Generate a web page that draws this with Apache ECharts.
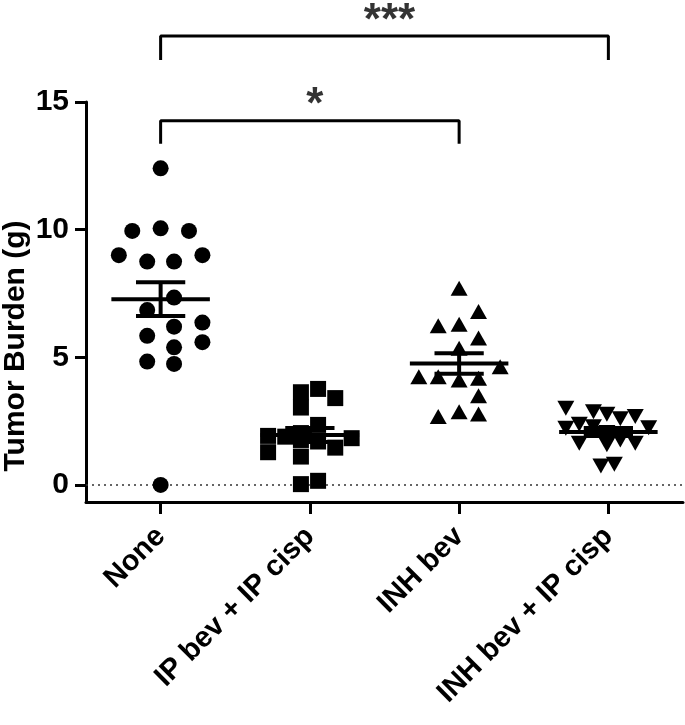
<!DOCTYPE html>
<html><head><meta charset="utf-8">
<script src="https://cdn.jsdelivr.net/npm/echarts@6/dist/echarts.min.js"></script>
<style>html,body{margin:0;padding:0;background:#fff}#c{width:685px;height:725px}</style>
</head><body><div id="c"></div>
<script>
// ---- data ----
const categories = ['None', 'IP bev + IP cisp', 'INH bev', 'INH bev + IP cisp'];
const yTicks = [0, 5, 10, 15];

// beeswarm positions: x offset (category units) and value (g)
const noneX = [0, -0.19, 0, 0.19, -0.28, -0.09, 0.09, 0.28, 0.09, -0.09, 0.09, 0.28, -0.09, 0.28, 0.09, -0.09, 0.09, 0];
const noneY = [12.40, 9.95, 10.05, 9.95, 9.0, 8.75, 8.75, 9.0, 7.34, 6.85, 6.2, 6.36, 5.84, 5.59, 5.39, 4.83, 4.74, 0];

const ipX = [-0.06, -0.06, 0.055, 0.17, -0.28, -0.28, -0.165, -0.06, 0.055, 0.055, 0.17, 0.28, -0.06, -0.06, 0.055, -0.06];
const ipY = [3.63, 3.03, 3.76, 3.40, 1.92, 1.28, 1.89, 2.03, 2.35, 1.70, 1.46, 1.83, 1.11, 0.03, 0.16, 1.76];

const inhX = [0, 0.13, -0.14, 0, 0.13, 0, 0.275, -0.27, -0.14, 0, 0.13, 0.13, -0.14, 0, 0.13];
const inhY = [7.70, 6.79, 6.23, 6.29, 5.75, 5.35, 4.63, 4.24, 4.24, 4.11, 4.18, 3.49, 2.68, 2.87, 2.78];

const inhIpX = [-0.285, -0.10, -0.01, 0.08, 0.18, -0.285, -0.195, -0.10, 0.27, -0.195, -0.01, 0.08, 0.18, -0.05, 0.04, -0.01, 0.08];
const inhIpY = [3.0, 2.87, 2.77, 2.59, 2.68, 2.22, 2.38, 2.28, 2.24, 1.63, 1.57, 1.76, 1.63, 0.74, 0.81, 2.05, 2.0];

// significance brackets
const bracketFrom = [0, 0];
const bracketTo = [2, 3];
const bracketTop = [14.27, 17.59];
const bracketLeg = [13.36, 16.65];
const bracketText = ['*', '***'];
const starValue = [14.85, 18.15];

// ---- build ----
const groupsX = [noneX, ipX, inhX, inhIpX];
const groupsY = [noneY, ipY, inhY, inhIpY];
const symbols = ['circle', 'rect', 'triangle', 'triangle'];
const rotations = [0, 0, 0, 180];
const sizes = [16, 16, [17, 15], [17, 15]];

function stats(a) {
  const n = a.length;
  const m = a.reduce((s, v) => s + v, 0) / n;
  const sd = Math.sqrt(a.reduce((s, v) => s + (v - m) * (v - m), 0) / (n - 1));
  return [m, sd / Math.sqrt(n)];
}
const errData = groupsY.map((g, i) => { const s = stats(g); return [i, s[0], s[1]]; });

const FONT = 'Liberation Sans, Arial, Helvetica, sans-serif';
const series = [];
groupsY.forEach((g, i) => {
  series.push({
    type: 'scatter', xAxisIndex: 1, yAxisIndex: 0,
    symbol: symbols[i], symbolRotate: rotations[i], symbolSize: sizes[i],
    itemStyle: { color: '#000', opacity: 1 },
    data: g.map((v, k) => [i + groupsX[i][k], v]),
    z: 3
  });
});
series[0].markLine = {
  silent: true, symbol: 'none', label: { show: false },
  lineStyle: { type: [2, 4], color: '#333', width: 1.5 },
  data: [{ yAxis: 0 }], z: 1
};
series.push({
  type: 'custom', xAxisIndex: 1, yAxisIndex: 0, z: 4,
  data: errData,
  renderItem: function (params, api) {
    const i = api.value(0), m = api.value(1), s = api.value(2);
    const L = 0.33, C = 0.165;
    const st = { stroke: '#000', lineWidth: 4, fill: null };
    const seg = (a, b) => ({ type: 'line', shape: { x1: a[0], y1: a[1], x2: b[0], y2: b[1] }, style: st });
    return {
      type: 'group', children: [
        seg(api.coord([i - L, m]), api.coord([i + L, m])),
        seg(api.coord([i, m - s]), api.coord([i, m + s])),
        seg(api.coord([i - C, m + s]), api.coord([i + C, m + s])),
        seg(api.coord([i - C, m - s]), api.coord([i + C, m - s]))
      ]
    };
  }
});
bracketFrom.forEach((f, k) => {
  series.push({
    type: 'line', xAxisIndex: 1, yAxisIndex: 0, clip: false, symbol: 'none', silent: true,
    lineStyle: { color: '#000', width: 3 },
    data: [[f, bracketLeg[k]], [f, bracketTop[k]], [bracketTo[k], bracketTop[k]], [bracketTo[k], bracketLeg[k]]]
  });
  series.push({
    type: 'scatter', xAxisIndex: 1, yAxisIndex: 0, clip: false, symbolSize: 0, silent: true,
    data: [[(f + bracketTo[k]) / 2, starValue[k]]],
    label: { show: true, position: 'inside', offset: [5, 0], formatter: bracketText[k], color: '#000',
      fontFamily: FONT, fontWeight: 'bold', fontSize: 44 }
  });
});

const chart = echarts.init(document.getElementById('c'), null, { renderer: 'canvas' });
chart.setOption({
  animation: false,
  backgroundColor: '#fff',
  grid: { left: 86, right: 2, top: 102, bottom: 223, containLabel: false, outerBoundsMode: 'none' },
  xAxis: [{
    type: 'category', data: categories, boundaryGap: true,
    axisLine: { show: true, onZero: false, lineStyle: { color: '#000', width: 3 } },
    axisTick: { show: true, alignWithLabel: true, length: 12, lineStyle: { color: '#000', width: 3 } },
    axisLabel: { rotate: 45, margin: 30, interval: 0, color: '#000', fontFamily: FONT, fontWeight: 'bold', fontSize: 29 },
    splitLine: { show: false }
  }, {
    type: 'value', min: -0.5, max: 3.5, show: false,
    axisLine: { onZero: false }
  }],
  yAxis: [{
    type: 'value', min: -0.67, max: 15,
    axisLine: { show: true, onZero: false, lineStyle: { color: '#000', width: 3 } },
    axisTick: { show: true, length: 11, customValues: yTicks, lineStyle: { color: '#000', width: 3 } },
    axisLabel: { customValues: yTicks, margin: 17, color: '#000', fontFamily: FONT, fontWeight: 'bold', fontSize: 30 },
    splitLine: { show: false },
    name: 'Tumor Burden (g)', nameLocation: 'middle', nameRotate: 90, nameGap: 55, nameMoveOverlap: false,
    nameTextStyle: { color: '#000', fontFamily: FONT, fontWeight: 'bold', fontSize: 30, padding: [0, 88, 0, 0] }
  }],
  series: series
});
</script>
</body></html>
